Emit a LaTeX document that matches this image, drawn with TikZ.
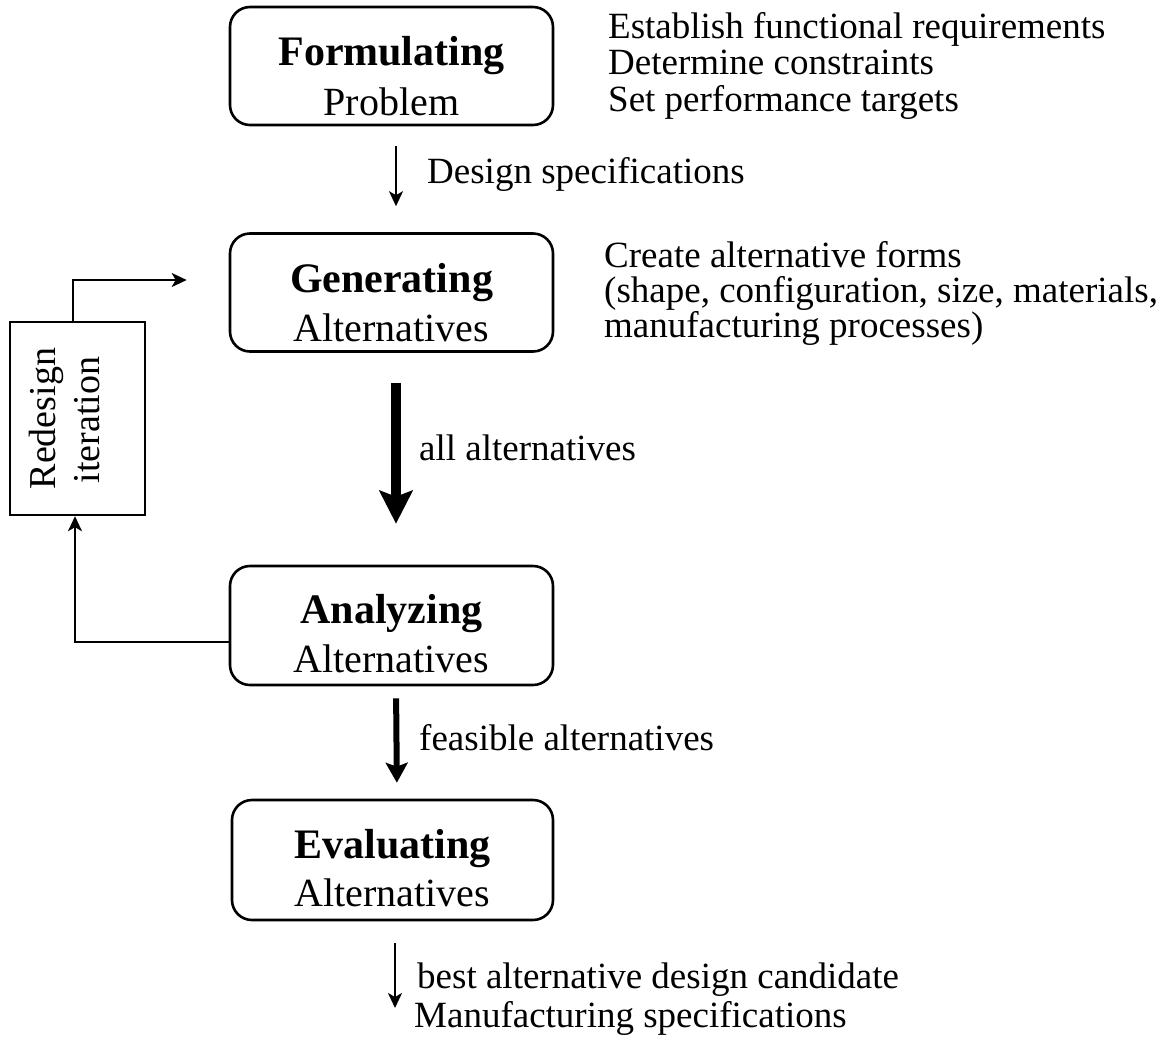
\documentclass[tikz,border=0pt]{standalone}
\usepackage{fontspec}
\setmainfont{Liberation Serif}
\usetikzlibrary{arrows.meta,positioning,calc}

\begin{document}
\begin{tikzpicture}[x=1pt,y=-1pt,
  stage/.style={draw, line width=2.6pt, rounded corners=20pt, inner sep=0pt},
  stagetitle/.style={anchor=base, font=\fontsize{42}{48}\selectfont\bfseries, inner sep=0pt},
  stagesub/.style={anchor=base, font=\fontsize{40}{48}\selectfont, inner sep=0pt},
  note/.style={anchor=base west, font=\fontsize{37}{44}\selectfont, inner sep=0pt},
  thinarrow/.style={line width=2pt, -{Stealth[length=15pt,width=14pt,inset=4pt]}},
  midarrow/.style={line width=6pt, -{Stealth[length=20pt,width=22pt,inset=4pt]}},
  bigarrow/.style={line width=10pt, -{Stealth[length=33pt,width=33pt,inset=6pt]}},
  link/.style={line width=2.2pt, -{Stealth[length=15pt,width=14pt,inset=4pt]}}
]
\useasboundingbox (0,0) rectangle (1168,1050);

% process stages
\node[stage, minimum width=323pt, minimum height=118pt] (F) at (391.5,66) {};
\node[stage, minimum width=323pt, minimum height=118pt] (G) at (391.5,292.5) {};
\node[stage, minimum width=323pt, minimum height=119pt] (A) at (391.5,625.5) {};
\node[stage, minimum width=321pt, minimum height=120pt] (E) at (392.5,860) {};

\node[stagetitle] (Ft) at (391.5,65) {Formulating};
\node[stagesub]   (Fs) at (391.5,115) {Problem};
\node[stagetitle] (Gt) at (391.5,292) {Generating};
\node[stagesub]   (Gs) at (391.5,341) {Alternatives};
\node[stagetitle] (At) at (391.5,623) {Analyzing};
\node[stagesub]   (As) at (391.5,672) {Alternatives};
\node[stagetitle] (Et) at (392.5,858) {Evaluating};
\node[stagesub]   (Es) at (392.5,906) {Alternatives};

% redesign loop box
\node[draw, line width=2.4pt, minimum width=135pt, minimum height=193pt, inner sep=0pt] (R) at (77.5,418.5) {};
\node[rotate=90, anchor=base, font=\fontsize{38}{44}\selectfont, inner sep=0pt] (R1) at (55,418.5) {Redesign};
\node[rotate=90, anchor=base, font=\fontsize{38}{44}\selectfont, inner sep=0pt] (R2) at (99,420) {iteration};

% side notes
\node[note] (n1) at (608,38) {Establish functional requirements};
\node[note] (n2) at (608,74.5) {Determine constraints};
\node[note] (n3) at (608,111) {Set performance targets};
\node[note] (n4) at (604,267) {Create alternative forms};
\node[note] (n5) at (604,302) {(shape, configuration, size, materials,};
\node[note] (n6) at (604,337) {manufacturing processes)};

% flow labels
\node[note] (l1) at (427,183) {Design specifications};
\node[note] (l2) at (419,460) {all alternatives};
\node[note] (l3) at (419,750) {feasible alternatives};
\node[note] (l4) at (417,988) {best alternative design candidate};
\node[note] (l5) at (414,1027) {Manufacturing specifications};

% main flow
\draw[thinarrow, shorten <=20pt, shorten >=26pt] ([xshift=4.5pt]F.south) -- ([xshift=4.5pt]G.north);
\draw[bigarrow, shorten <=30pt, shorten >=41pt] ([xshift=4.5pt]G.south) -- ([xshift=4.5pt]A.north);
\draw[midarrow, shorten <=12pt, shorten >=16pt] ([xshift=4.5pt]A.south) -- ([xshift=4.5pt]E.north);
\coordinate (out) at (395,1008);
\draw[thinarrow, shorten <=22pt] ([xshift=2.5pt]E.south) -- (out);

% iteration loop
\draw[link] ([xshift=-4.5pt]R.north) |- ([xshift=-42pt,yshift=12.5pt]G.west);
\draw[link] ([yshift=-16.5pt]A.west) -| ([xshift=-2.5pt]R.south);
\end{tikzpicture}
\end{document}
